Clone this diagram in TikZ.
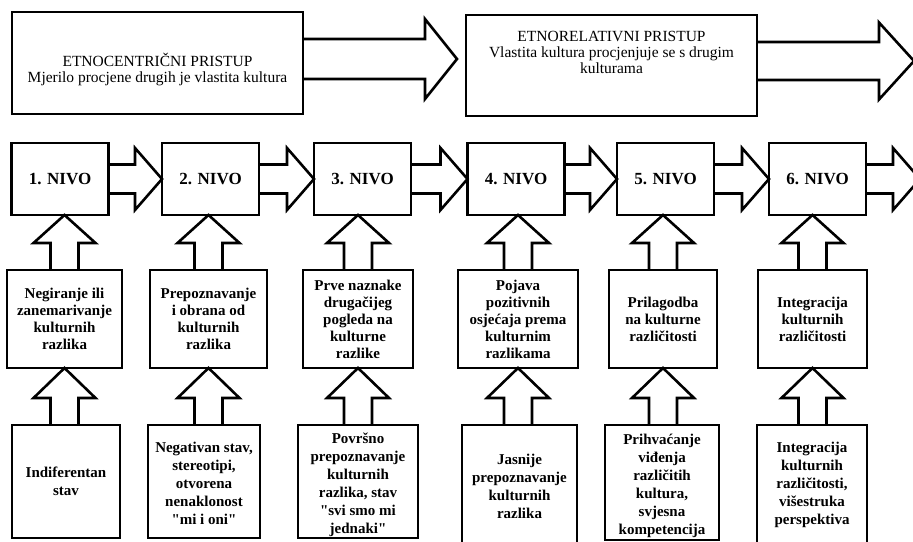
\documentclass[tikz,border=0pt]{standalone}
\usepackage{fontspec}
\setmainfont{Liberation Serif}[Ligatures=TeXOff]
\usetikzlibrary{calc}
\newcommand\rarr[2]{\draw[blk] ($(#1.east)+(0,-14.5)$) -- ($(#2)+(-27,-14.5)$) -- ($(#2)+(-27,-31)$) -- (#2) -- ($(#2)+(-27,31)$) -- ($(#2)+(-27,14.5)$) -- ($(#1.east)+(0,14.5)$);}
\newcommand\uarr[3]{\draw[blk] ($(#1)+(-14,0)$) -- ($(#2)+(-14,#3)$) -- ($(#2)+(-31,#3)$) -- (#2) -- ($(#2)+(31,#3)$) -- ($(#2)+(14,#3)$) -- ($(#1)+(14,0)$);}
\begin{document}
\begin{tikzpicture}[x=1pt,y=-1pt,
  blk/.style={draw, line width=2.6pt, line join=miter},
  box/.style={draw, line width=2.6pt, outer sep=0pt, inner sep=0pt, align=center},
  toptext/.style={align=center, inner sep=0pt, font=\fontsize{15.5}{16}\selectfont},
  topbox/.style={box, minimum width=291pt},
  nivo/.style={box, minimum width=97pt, minimum height=72pt, font=\bfseries\fontsize{17}{18}\selectfont},
  midbox/.style={box, minimum height=98pt, font=\bfseries\fontsize{15}{17}\selectfont},
  botbox/.style={box, minimum height=113pt},
  bottext/.style={align=center, inner sep=0pt, font=\bfseries\fontsize{15}{18}\selectfont}]
\useasboundingbox (0,0) rectangle (913,541);
\clip (0,0) rectangle (913,541);
% top row
\node[topbox, minimum height=102pt] (etc) at (157.5,63) {};
\node[toptext] (etct) at (157.5,70) {ETNOCENTRIČNI PRISTUP\\Mjerilo procjene drugih je vlastita kultura};
\node[topbox, minimum height=101pt] (etr) at (611.5,65.5) {};
\node[toptext, anchor=north] (etrt) at (611.5,31) {ETNORELATIVNI PRISTUP\\Vlastita kultura procjenjuje se s drugim\\kulturama};
\coordinate (a1) at (457,59);
\draw[blk] ($(etc.east)+(0,-24)$) -- ($(a1)+(-32,-20)$) -- ($(a1)+(-32,-40)$) -- (a1) -- ($(a1)+(-32,40)$) -- ($(a1)+(-32,20)$) -- ($(etc.east)+(0,16)$);
\coordinate (a2) at (914,61);
\draw[blk] ($(etr.east)+(0,-23.5)$) -- ($(a2)+(-35,-19)$) -- ($(a2)+(-35,-38.5)$) -- (a2) -- ($(a2)+(-35,38.5)$) -- ($(a2)+(-35,19)$) -- ($(etr.east)+(0,14.5)$);
% levels
\node[nivo] (n1) at (60,179) {1. NIVO};
\node[nivo] (n2) at (210.5,179) {2. NIVO};
\node[nivo] (n3) at (362.5,179) {3. NIVO};
\node[nivo] (n4) at (516,179) {4. NIVO};
\node[nivo] (n5) at (665.5,179) {5. NIVO};
\node[nivo] (n6) at (817.5,179) {6. NIVO};
\coordinate (n7) at (920,179);
\rarr{n1}{n2.west}
\rarr{n2}{n3.west}
\rarr{n3}{n4.west}
\rarr{n4}{n5.west}
\rarr{n5}{n6.west}
\rarr{n6}{n7}
% middle row
\node[midbox, minimum width=115pt] (m1) at (64.5,319) {Negiranje ili\\zanemarivanje\\kulturnih\\razlika};
\node[midbox, minimum width=117pt] (m2) at (208.5,319) {Prepoznavanje\\i obrana od\\kulturnih\\razlika};
\node[midbox, minimum width=110pt] (m3) at (358,319) {Prve naznake\\drugačijeg\\pogleda na\\kulturne\\razlike};
\node[midbox, minimum width=120pt] (m4) at (518,319) {Pojava\\pozitivnih\\osjećaja prema\\kulturnim\\razlikama};
\node[midbox, minimum width=108pt] (m5) at (663,319) {Prilagodba\\na kulturne\\različitosti};
\node[midbox, minimum width=109pt] (m6) at (812.5,319) {Integracija\\kulturnih\\različitosti};
% bottom row
\node[botbox, minimum width=108pt] (b1) at (66,481.5) {};
\node[botbox, minimum width=112pt] (b2) at (204,481.5) {};
\node[botbox, minimum width=120pt] (b3) at (358,481.5) {};
\node[botbox, minimum width=115pt, minimum height=123pt] (b4) at (519.5,486.5) {};
\node[botbox, minimum width=114pt, minimum height=115pt] (b5) at (662,482.5) {};
\node[botbox, minimum width=110pt, minimum height=123pt] (b6) at (812,486.5) {};
\node[bottext] (b1t) at (66,481) {Indiferentan\\stav};
\node[bottext] (b2t) at (204,483) {Negativan stav,\\stereotipi,\\otvorena\\nenaklonost\\"mi i oni"};
\node[bottext] (b3t) at (358,484.5) {Površno\\prepoznavanje\\kulturnih\\razlika, stav\\"svi smo mi\\jednaki"};
\node[bottext] (b4t) at (519.5,486.5) {Jasnije\\prepoznavanje\\kulturnih\\razlika};
\node[bottext] (b5t) at (662,485.5) {Prihvaćanje\\viđenja\\različitih\\kultura,\\svjesna\\kompetencija};
\node[bottext] (b6t) at (812,484.5) {Integracija\\kulturnih\\različitosti,\\višestruka\\perspektiva};
% up arrows
\foreach \i in {1,...,6}{
  \coordinate (ut\i) at (m\i.north |- n\i.south);
  \coordinate (lb\i) at (m\i.south |- b\i.north);
}
\uarr{m1.north}{ut1}{28}
\uarr{m2.north}{ut2}{28}
\uarr{m3.north}{ut3}{28}
\uarr{m4.north}{ut4}{28}
\uarr{m5.north}{ut5}{28}
\uarr{m6.north}{ut6}{28}
\uarr{lb1}{m1.south}{30}
\uarr{lb2}{m2.south}{30}
\uarr{lb3}{m3.south}{30}
\uarr{lb4}{m4.south}{30}
\uarr{lb5}{m5.south}{30}
\uarr{lb6}{m6.south}{30}
\end{tikzpicture}
\end{document}
